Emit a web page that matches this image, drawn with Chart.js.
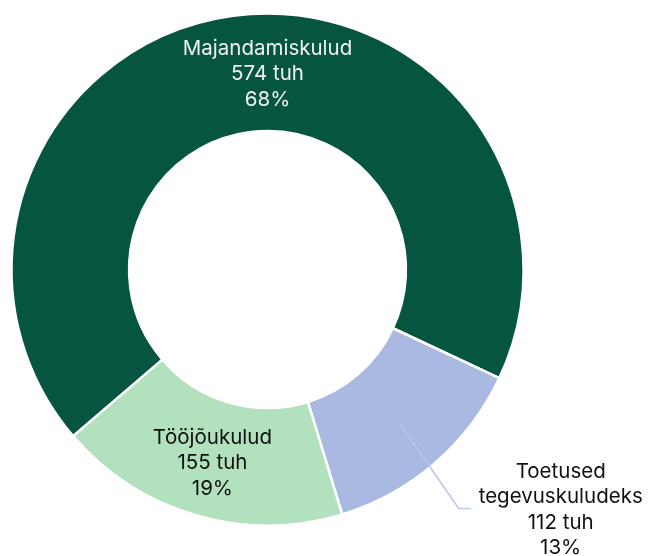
<!DOCTYPE html>
<html>
<head>
<meta charset="utf-8">
<script src="https://cdn.jsdelivr.net/npm/chart.js@4"></script>
<style>
  html, body { margin: 0; padding: 0; background: #fff; }
  #wrap { width: 654px; height: 556px; position: relative; }
</style>
</head>
<body>
<div id="wrap"><canvas id="chart"></canvas></div>
<script>
    // categories and values (tuh = thousand euros)
    const categories = ["Majandamiskulud", "Toetused tegevuskuludeks", "Tööjõukulud"];
    const labelLines = [["Majandamiskulud"], ["Toetused", "tegevuskuludeks"], ["Tööjõukulud"]];
    const values = [574, 112, 155];
    const percents = ["68%", "13%", "19%"];
    const colors = ["#065541", "#A9B9E1", "#B2E1BD"];

    const FONT = "20.5px Inter";
    const LINE_H = 25.5;

    const labelPlugin = {
        id: "sliceLabels",
        afterDatasetsDraw(chart) {
            const ctx = chart.ctx;
            const arcs = chart.getDatasetMeta(0).data;
            ctx.save();
            ctx.font = FONT;
            ctx.textAlign = "center";
            ctx.textBaseline = "middle";

            arcs.forEach((arc, i) => {
                const { x, y, startAngle, endAngle, innerRadius, outerRadius } = arc.getProps(
                    ["x", "y", "startAngle", "endAngle", "innerRadius", "outerRadius"], true);
                const mid = (startAngle + endAngle) / 2;
                const r = (innerRadius + outerRadius) / 2;
                const cx = x + Math.cos(mid) * r;
                const cy = y + Math.sin(mid) * r;
                const lines = labelLines[i].concat([values[i] + " tuh", percents[i]]);

                let tx, ty;
                if (i === 0) {
                    // big slice: label sits at the top of the ring
                    tx = x;
                    ty = y - r + 2;
                    ctx.fillStyle = "#F2F2F2";
                } else if (i === 1) {
                    // small slice: label outside, with a leader line
                    const sx = cx + 2, sy = cy + 3;
                    const ex = sx + 60, ey = sy + 87;
                    ctx.strokeStyle = "#B9C5EB";
                    ctx.lineWidth = 1.5;
                    ctx.beginPath();
                    ctx.moveTo(sx, sy);
                    ctx.lineTo(ex, ey);
                    ctx.lineTo(ex + 12, ey);
                    ctx.stroke();
                    tx = ex + 102;
                    ty = ey + 1.5;
                    ctx.fillStyle = "#111";
                } else {
                    tx = cx;
                    ty = cy + 4;
                    ctx.fillStyle = "#111";
                }
                const top = ty - (lines.length - 1) * LINE_H / 2;
                lines.forEach((t, k) => ctx.fillText(t, tx, top + k * LINE_H));
            });
            ctx.restore();
        }
    };

    new Chart(document.getElementById("chart"), {
        type: "doughnut",
        data: {
            labels: categories,
            datasets: [{
                data: values,
                backgroundColor: colors,
                borderColor: "#fff",
                borderWidth: 2.5,
                hoverOffset: 0
            }]
        },
        options: {
            responsive: true,
            maintainAspectRatio: false,
            animation: false,
            rotation: 229.4,
            radius: 256,
            cutout: 144,
            layout: { padding: { left: 0, top: 0, right: 119, bottom: 17 } },
            plugins: {
                legend: { display: false },
                tooltip: { enabled: false }
            }
        },
        plugins: [labelPlugin]
    });
</script>
</body>
</html>
